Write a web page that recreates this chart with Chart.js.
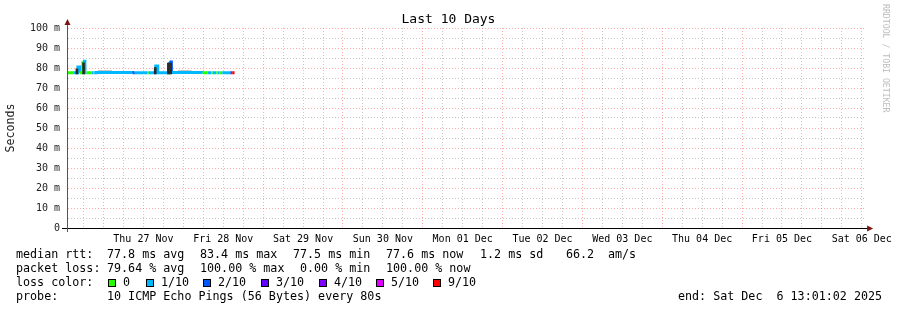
<!DOCTYPE html>
<html>
<head>
<meta charset="utf-8">
<script src="https://cdn.jsdelivr.net/npm/chart.js@4.4.1/dist/chart.umd.min.js"></script>
<style>
  html, body { margin: 0; padding: 0; background: #fff; }
  #wrap { position: relative; width: 897px; height: 310px; overflow: hidden; }
  #chart { position: absolute; left: 0; top: 0; }
  .lg { position: absolute; font-family: 'DejaVu Sans Mono', monospace; font-size: 11.7px; line-height: 14px; color: #000; white-space: pre; }
  .box { position: absolute; width: 6px; height: 6px; border: 1px solid #000; }
  #title { position: absolute; left: 0; width: 897px; top: 11px; text-align: center; font-family: 'DejaVu Sans Mono', monospace; font-size: 13px; line-height: 16px; color: #000; }
  #mark { position: absolute; left: 881px; top: 4px; writing-mode: vertical-rl; font-family: 'DejaVu Sans Mono', monospace; font-size: 8.2px; line-height: 9px; color: #bdbdbd; }
</style>
</head>
<body>
<div id="wrap">
  <canvas id="chart" width="897" height="310"></canvas>
  <div id="title">Last 10 Days</div>
  <div id="mark">RRDTOOL / TOBI OETIKER</div>
</div>
<script>
// x values are hours since Wed 26 Nov 00:00
const startHour = 13.017;   // Wed 26 Nov 13:01:02
const endHour = 253.017;    // Sat 06 Dec 13:01:02

const dayLabels = ['Thu 27 Nov', 'Fri 28 Nov', 'Sat 29 Nov', 'Sun 30 Nov', 'Mon 01 Dec',
                   'Tue 02 Dec', 'Wed 03 Dec', 'Thu 04 Dec', 'Fri 05 Dec', 'Sat 06 Dec'];
const dayNoons = [36, 60, 84, 108, 132, 156, 180, 204, 228, 252];

const lossNames = ['0', '1/10', '2/10', '3/10', '4/10', '5/10', '9/10'];
const lossColors = ['#26ff00', '#00b8ff', '#0059ff', '#5e00ff', '#7e00ff', '#dd00ff', '#ff0000'];

// median rtt (ms), one entry per run of equal loss colour
const segStart  = [13.1, 14.9, 16.3, 16.9, 17.8, 18.4, 18.9, 20.4, 20.9, 21.2, 21.7, 32.7, 33.4, 37.3, 37.6,
                   39.7, 40.3, 43.8, 44.4, 53.8, 55.3, 56.4, 56.8, 57.9, 58.3, 58.9, 59.7, 62.1, 62.7];
const segEnd = 63.4;
const segMedian = [77.6, 77.6, 80.5, 77.6, 83.4, 77.6, 77.6, 77.6, 77.6, 77.6, 77.8, 77.6, 77.6, 77.6, 77.6,
                   81.0, 77.6, 83.0, 77.8, 77.6, 77.6, 77.6, 77.6, 77.6, 77.6, 77.6, 77.6, 77.6, 77.6];
const segLoss   = [0, 1, 1, 0, 1, 1, 0, 1, 0, 1, 1, 2, 1, 0, 1,
                   1, 1, 2, 1, 0, 1, 0, 1, 0, 1, 0, 1, 2, 6];

// dark smoke under the rtt spikes
const spikeX    = [16.0, 18.0, 39.55, 43.5, 44.2];
const spikeLow  = [77.0, 77.0, 77.0, 77.0, 77.0];
const spikeHigh = [79.6, 82.6, 80.2, 82.4, 82.4];

// light smoke just above the median
const smokeStart = [22.3, 46.3];
const smokeEnd   = [26.5, 50.5];
const smokeTop   = [78.5, 78.5];

const xGrid = [];
for (let h = 18; h <= 252; h += 6) xGrid.push(h);
const yGrid = [];
for (let v = 0; v <= 100; v += 5) yGrid.push(v);

const medianPts = segStart.map((x, i) => ({ x: x, y: segMedian[i] }));
medianPts.push({ x: segEnd, y: segMedian[segMedian.length - 1] });

const spikePts = spikeX.map((x, i) => ({ x: x, y: [spikeLow[i], spikeHigh[i]] }));

const smokePts = [];
smokeStart.forEach((s, i) => {
    smokePts.push({ x: s, y: smokeTop[i] }, { x: smokeEnd[i], y: smokeTop[i] }, { x: smokeEnd[i] + 1, y: null });
});

const redGrid = 'rgba(255, 90, 90, 0.5)';
const greyGrid = '#c8c8c8';

// axis lines with the little rrdtool arrows
const axisArrows = {
    id: 'axisArrows',
    afterDraw(chart) {
        const { ctx, chartArea: a } = chart;
        const bx = Math.round(a.left) + 0.5;
        const by = Math.round(a.bottom) + 0.5;
        ctx.save();
        ctx.lineWidth = 1;
        ctx.strokeStyle = '#000';
        ctx.beginPath();
        ctx.moveTo(a.left - 5, by);
        ctx.lineTo(a.right + 3, by);
        ctx.stroke();
        ctx.strokeStyle = '#555';
        ctx.beginPath();
        ctx.moveTo(bx, a.bottom + 4);
        ctx.lineTo(bx, a.top - 4);
        ctx.stroke();
        ctx.fillStyle = '#7b1414';
        ctx.beginPath();
        ctx.moveTo(bx - 3, a.top - 3);
        ctx.lineTo(bx + 3, a.top - 3);
        ctx.lineTo(bx, a.top - 9);
        ctx.closePath();
        ctx.fill();
        ctx.beginPath();
        ctx.moveTo(a.right + 2, by - 3);
        ctx.lineTo(a.right + 2, by + 3);
        ctx.lineTo(a.right + 8, by);
        ctx.closePath();
        ctx.fill();
        ctx.restore();
    }
};

Chart.defaults.font.family = "'DejaVu Sans Mono', monospace";
Chart.defaults.color = '#000';

new Chart(document.getElementById('chart'), {
    type: 'line',
    data: {
        datasets: [
            {
                type: 'bar',
                data: spikePts,
                backgroundColor: '#2a2a2a',
                barThickness: 2,
                grouped: false,
                order: 0
            },
            {
                data: medianPts,
                stepped: true,
                borderWidth: 3,
                borderCapStyle: 'butt',
                borderColor: lossColors[1],
                segment: { borderColor: c => lossColors[segLoss[c.p0DataIndex]] },
                pointRadius: 0,
                order: 1
            },
            {
                data: smokePts,
                borderColor: '#c6c6c6',
                borderWidth: 2,
                pointRadius: 0,
                spanGaps: false,
                order: 2
            }
        ]
    },
    options: {
        responsive: false,
        animation: false,
        layout: { padding: { left: 0, right: 30, top: 28, bottom: 0 } },
        plugins: {
            legend: { display: false },
            tooltip: { enabled: false },
            title: { display: false }
        },
        scales: {
            x: {
                type: 'linear',
                offset: false,
                min: startHour,
                max: endHour,
                afterBuildTicks: s => { s.ticks = xGrid.map(v => ({ value: v })); },
                afterFit: s => { s.height = 82; },
                ticks: {
                    autoSkip: false,
                    maxRotation: 0,
                    padding: 5,
                    font: { size: 10 },
                    callback: v => {
                        const i = dayNoons.indexOf(v);
                        return i >= 0 ? dayLabels[i] : '';
                    }
                },
                grid: {
                    offset: false,
                    drawTicks: false,
                    color: c => (c.tick && c.tick.value % 24 === 0) ? redGrid : greyGrid
                },
                border: { color: '#000', dash: [1, 2] }
            },
            y: {
                min: 0,
                max: 100,
                afterBuildTicks: s => { s.ticks = yGrid.map(v => ({ value: v })); },
                afterFit: s => { s.width = 67; },
                ticks: {
                    autoSkip: false,
                    padding: 7,
                    font: { size: 10 },
                    color: '#222',
                    callback: v => (v % 10 !== 0) ? '' : (v === 0 ? '0' : v + ' m')
                },
                grid: {
                    drawTicks: false,
                    color: c => (c.tick && c.tick.value % 10 === 0) ? redGrid : greyGrid
                },
                border: { color: '#555', dash: [1, 2] },
                title: {
                    display: true,
                    text: 'Seconds',
                    color: '#222',
                    font: { size: 11.6 },
                    padding: { top: 4, bottom: 0 }
                }
            }
        }
    },
    plugins: [axisArrows]
});

// text legend under the graph (rrdtool style)
const wrap = document.getElementById('wrap');
const addText = (x, y, text) => {
    const el = document.createElement('div');
    el.className = 'lg';
    el.style.left = x + 'px';
    el.style.top = y + 'px';
    el.textContent = text;
    wrap.appendChild(el);
};

addText(16, 247, 'median rtt:');
addText(107, 247, '77.8 ms avg');
addText(200, 247, '83.4 ms max');
addText(293, 247, '77.5 ms min');
addText(386, 247, '77.6 ms now');
addText(480, 247, '1.2 ms sd');
addText(566, 247, '66.2');
addText(608, 247, 'am/s');

addText(16, 261, 'packet loss:');
addText(107, 261, '79.64 % avg');
addText(200, 261, '100.00 % max');
addText(300, 261, '0.00 % min');
addText(386, 261, '100.00 % now');

addText(16, 275, 'loss color:');
const boxX = [108, 146, 203, 261, 319, 376, 433];
lossNames.forEach((name, i) => {
    const b = document.createElement('div');
    b.className = 'box';
    b.style.left = boxX[i] + 'px';
    b.style.top = '279px';
    b.style.background = lossColors[i];
    wrap.appendChild(b);
    addText(boxX[i] + 15, 275, name);
});

addText(16, 289, 'probe:');
addText(107, 289, '10 ICMP Echo Pings (56 Bytes) every 80s');
addText(678, 289, 'end: Sat Dec  6 13:01:02 2025');
</script>
</body>
</html>
